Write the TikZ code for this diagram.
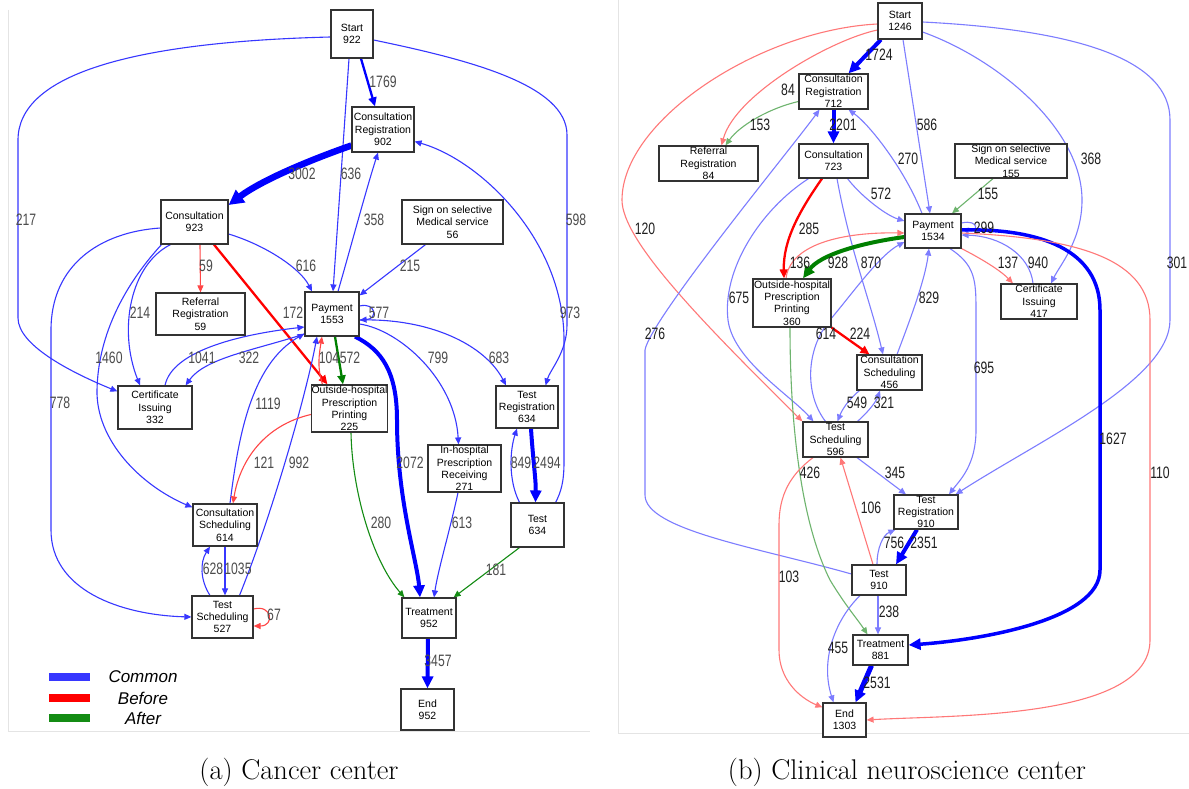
\documentclass[tikz,border=0pt]{standalone}
\usepackage{fontspec}
\usetikzlibrary{arrows.meta}
\newfontfamily\boxfont{Liberation Sans}
\newfontfamily\numfont[FakeStretch=0.74]{Liberation Sans}
\definecolor{lblue}{RGB}{55,55,255}
\definecolor{rblue}{RGB}{125,125,255}
\definecolor{tblue}{RGB}{0,0,255}
\definecolor{lred}{RGB}{255,70,70}
\definecolor{rred}{RGB}{255,120,120}
\definecolor{tred}{RGB}{255,0,0}
\definecolor{lgreen}{RGB}{20,140,20}
\definecolor{rgreen}{RGB}{110,180,110}
\definecolor{tgreen}{RGB}{0,128,0}
\definecolor{framegray}{RGB}{228,228,228}
\pgfdeclarelayer{edges}
\pgfsetlayers{edges,main}
\begin{document}
\begin{tikzpicture}[x=1pt,y=-1pt,
  box/.style={draw=black!80, line width=1.2pt, fill=white, inner sep=0pt, align=center,
    font={\boxfont\fontsize{10.5}{12.4}\selectfont}},
  ethin/.style={line width=1.1pt, -{Triangle[length=7pt,width=6pt]}},
  emed/.style={line width=2.3pt, -{Triangle[length=9pt,width=8pt]}},
  ebig/.style={line width=4pt, -{Triangle[length=12pt,width=11pt]}},
  ehuge/.style={line width=6.5pt, -{Triangle[length=15pt,width=15pt]}},
  lab/.style={font={\numfont\fontsize{16.5}{16.5}\selectfont}, inner sep=0pt},
  laba/.style={lab, text=black!70},
  labb/.style={lab, text=black!88},
  legtext/.style={font={\boxfont\itshape\fontsize{17}{17}\selectfont}, inner sep=0pt},
  caption/.style={font={\fontsize{28.5}{32}\selectfont}, inner sep=0pt}]

\useasboundingbox (0,0) rectangle (1189,789);

% ---------------- (a) Cancer center: activities ----------------
\node[box,minimum width=42pt,minimum height=48pt] (As) at (352,34) {Start\\922};
\node[box,minimum width=62pt,minimum height=45pt] (Acr) at (383,129.5) {Consultation\\Registration\\902};
\node[box,minimum width=67pt,minimum height=44pt] (Ac) at (194.5,222) {Consultation\\923};
\node[box,minimum width=101pt,minimum height=44pt] (Asm) at (452.5,222) {Sign on selective\\Medical service\\56};
\node[box,minimum width=89pt,minimum height=42pt] (Arr) at (200.5,314) {Referral\\Registration\\59};
\node[box,minimum width=54pt,minimum height=44pt] (Ap) at (332,314) {Payment\\1553};
\node[box,minimum width=74pt,minimum height=43pt] (Aci) at (155,407.5) {Certificate\\Issuing\\332};
\node[box,minimum width=75pt,minimum height=47pt] (Aop) at (349.5,408.5) {Outside-hospital\\Prescription\\Printing\\225};
\node[box,minimum width=62pt,minimum height=42pt] (Atr) at (527,407) {Test\\Registration\\634};
\node[box,minimum width=73pt,minimum height=47pt] (Aih) at (464.5,468.5) {In-hospital\\Prescription\\Receiving\\271};
\node[box,minimum width=53pt,minimum height=44pt] (At) at (537.5,525) {Test\\634};
\node[box,minimum width=64pt,minimum height=42pt] (Acs) at (225,525) {Consultation\\Scheduling\\614};
\node[box,minimum width=61pt,minimum height=42pt] (Ats) at (222.5,617) {Test\\Scheduling\\527};
\node[box,minimum width=54pt,minimum height=40pt] (Atm) at (429,618) {Treatment\\952};
\node[box,minimum width=53pt,minimum height=41pt] (Ae) at (427.5,709.5) {End\\952};

% ---------------- (b) Clinical neuroscience center: activities ----------------
\node[box,minimum width=44pt,minimum height=36pt] (Bs) at (900,21) {Start\\1246};
\node[box,minimum width=69pt,minimum height=35pt] (Bcr) at (833.5,91.5) {Consultation\\Registration\\712};
\node[box,minimum width=99pt,minimum height=35pt] (Brr) at (708.5,163.5) {Referral\\Registration\\84};
\node[box,minimum width=69pt,minimum height=34pt] (Bc) at (833.5,161) {Consultation\\723};
\node[box,minimum width=112pt,minimum height=34pt] (Bsm) at (1011,161) {Sign on selective\\Medical service\\155};
\node[box,minimum width=56pt,minimum height=34pt] (Bp) at (933,231) {Payment\\1534};
\node[box,minimum width=78pt,minimum height=48pt] (Bop) at (792,303) {Outside-hospital\\Prescription\\Printing\\360};
\node[box,minimum width=76pt,minimum height=35pt] (Bci) at (1039,301.5) {Certificate\\Issuing\\417};
\node[box,minimum width=65pt,minimum height=35pt] (Bcs) at (889.5,372.5) {Consultation\\Scheduling\\456};
\node[box,minimum width=65pt,minimum height=35pt] (Bts) at (835.5,439.5) {Test\\Scheduling\\596};
\node[box,minimum width=64pt,minimum height=34pt] (Btr) at (926,512) {Test\\Registration\\910};
\node[box,minimum width=54pt,minimum height=30pt] (Bt) at (879,580) {Test\\910};
\node[box,minimum width=55pt,minimum height=30pt] (Btm) at (880.5,650) {Treatment\\881};
\node[box,minimum width=43pt,minimum height=34pt] (Be) at (844.5,720) {End\\1303};

\begin{pgfonlayer}{edges}
\fill[white] (0,0) rectangle (1189,789);
% panel frames
\draw[framegray, line width=1pt] (8,10) -- (8,731) -- (590,731);
\draw[framegray, line width=1pt] (618,0) -- (618,733) -- (1189,733);

% ---- transitions, cancer center ----
\draw[emed,tblue] ([xshift=9pt]As.south) -- ([xshift=-8pt]Acr.north);
\draw[ethin,lblue] ([xshift=-3pt]As.south) -- ([xshift=1pt]Ap.north);
\draw[ethin,lblue] ([yshift=-3pt]As.west) .. controls (130,42) and (18,75) .. (18,140) -- (18,318) .. controls (18,345) and (70,372) .. ([yshift=-6pt]Aci.north west);
\draw[ethin,lblue] ([yshift=-6pt]As.east) .. controls (470,60) and (567,85) .. (567,135) -- (567,325) .. controls (567,352) and (550,370) .. ([xshift=-13pt]Atr.north east);
\draw[ethin,lblue] ([xshift=-9pt]At.north east) .. controls (561,492) and (564,482) .. (564,462) -- (564,340) .. controls (564,240) and (480,160) .. ([yshift=-12pt]Acr.east);
\draw[ehuge,tblue] ([yshift=-16pt]Acr.west) .. controls (310,160) and (262,180) .. ([yshift=17pt]Ac.east);
\draw[ethin,lblue] ([xshift=6pt]Ap.north) .. controls (350,250) and (366,190) .. ([xshift=-5pt]Acr.south);
\draw[ethin,lblue] ([xshift=-27pt]Asm.south) -- ([yshift=-4pt]Ap.north east);
\draw[ethin,lred] ([xshift=5.5pt]Ac.south) -- (Arr.north);
\draw[emed,tred] ([xshift=19.5pt]Ac.south) -- ([xshift=-22pt]Aop.north);
\draw[emed,tgreen] ([xshift=3pt]Ap.south) -- ([xshift=-6.5pt]Aop.north);
\draw[ethin,lred] ([xshift=-27pt]Aop.north) .. controls (317,368) and (319,355) .. ([xshift=-10pt]Ap.south);
\draw[ethin,lblue] ([yshift=-12pt]Ac.east) .. controls (265,245) and (300,268) .. ([xshift=-20pt]Ap.north);
\draw[ethin,lblue] ([xshift=-24pt]Ac.south) .. controls (130,265) and (118,330) .. ([xshift=-15pt]Aci.north);
\draw[ethin,lblue] ([xshift=-33pt]Ac.south) .. controls (120,290) and (98,340) .. (97,390) .. controls (96,440) and (140,485) .. ([yshift=-4pt]Acs.north west);
\draw[ethin,lblue] ([yshift=-6pt]Ac.west) .. controls (100,232) and (51,265) .. (51,330) -- (51,530) .. controls (51,590) and (120,615) .. (Ats.west);
\draw[ethin,lblue] ([yshift=8pt]Ap.east) .. controls (376,302) and (378,319) .. ([yshift=-6pt]Ap.east);
\draw[ethin,lblue] ([yshift=-20pt]Ap.west) .. controls (255,350) and (205,358) .. ([xshift=-7pt]Aci.north east);
\draw[ethin,lblue] ([xshift=10pt]Aci.north) .. controls (172,352) and (235,335) .. ([yshift=-13pt]Ap.west);
\draw[ethin,lblue] ([xshift=5pt]Acs.north) .. controls (238,440) and (250,365) .. ([yshift=3pt]Ap.south west);
\draw[ethin,lblue] ([xshift=17pt]Ats.north) .. controls (270,520) and (305,400) .. ([xshift=-15pt]Ap.south);
\draw[ethin,lred] ([yshift=-6pt]Aop.west) .. controls (265,425) and (240,460) .. ([xshift=8pt]Acs.north);
\draw[ethin,lblue] (Acs.south) -- ([xshift=2.5pt]Ats.north);
\draw[ethin,lblue] ([xshift=-12.5pt]Ats.north) .. controls (200,580) and (200,562) .. ([xshift=-15pt]Acs.south);
\draw[ethin,lred] ([yshift=8pt]Ats.east) .. controls (272,604) and (275,626) .. ([yshift=-9pt]Ats.east);
\draw[ebig,tblue] ([xshift=23pt]Ap.south) .. controls (382,350) and (397,372) .. (397,420) .. controls (397,500) and (417,560) .. ([xshift=-9pt]Atm.north);
\draw[ethin,lblue] ([yshift=-10pt]Ap.east) .. controls (400,330) and (455,380) .. ([xshift=-6pt]Aih.north);
\draw[ethin,lblue] ([yshift=-6pt]Ap.east) .. controls (430,318) and (485,345) .. ([xshift=-21pt]Atr.north);
\draw[ethin,lgreen] ([xshift=1.5pt]Aop.south) .. controls (352,490) and (372,560) .. ([xshift=3pt]Atm.north west);
\draw[ethin,lblue] ([xshift=-6.5pt]Aih.south) .. controls (450,530) and (438,570) .. ([xshift=5pt]Atm.north);
\draw[ebig,tblue] ([xshift=4pt]Atr.south) .. controls (533,460) and (536,480) .. ([xshift=-2pt]At.north);
\draw[ethin,lblue] ([xshift=-18pt]At.north) .. controls (508,480) and (510,450) .. ([xshift=-10pt]Atr.south);
\draw[ethin,lgreen] ([xshift=-18pt]At.south) -- ([xshift=-3pt]Atm.north east);
\draw[ebig,tblue] ([xshift=-1pt]Atm.south) -- (Ae.north);

% ---- transitions, clinical neuroscience center ----
\draw[ebig,tblue] ([xshift=-19pt]Bs.south) -- ([xshift=15pt]Bcr.north);
\draw[ethin,rred] ([yshift=-9pt]Bs.west) .. controls (830,40) and (735,95) .. ([xshift=13pt]Brr.north);
\draw[ethin,rred] ([yshift=-3pt]Bs.west) .. controls (760,30) and (622,120) .. (622,200) .. controls (622,240) and (700,320) .. (Bts.north west);
\draw[ethin,rblue] ([xshift=3pt]Bs.south) -- ([xshift=-3pt]Bp.north);
\draw[ethin,rblue] ([yshift=-11pt]Bs.east) .. controls (1000,60) and (1082,130) .. (1082,200) .. controls (1082,240) and (1060,265) .. ([xshift=12pt]Bci.north);
\draw[ethin,rblue] ([yshift=-1pt]Bs.east) .. controls (1080,30) and (1170,60) .. (1170,120) -- (1170,320) .. controls (1170,380) and (1040,440) .. ([xshift=-3pt]Btr.north east);
\draw[ebig,tblue] (Bcr.south) -- (Bc.north);
\draw[ethin,rgreen] ([yshift=-10pt]Bcr.west) .. controls (770,108) and (740,125) .. ([xshift=17pt]Brr.north);
\draw[ethin,rblue] ([xshift=-11pt]Bp.north) .. controls (905,170) and (870,125) .. ([xshift=15pt]Bcr.south);
\draw[ethin,rblue] ([yshift=6pt]Bt.west) .. controls (760,548) and (645,530) .. (645,495) -- (645,350) .. controls (650,320) and (790,150) .. ([xshift=-14pt]Bcr.south);
\draw[ethin,rblue] ([xshift=14pt]Bc.south) .. controls (860,195) and (885,215) .. ([yshift=10pt]Bp.west);
\draw[emed,tred] ([xshift=-11.5pt]Bc.south) .. controls (800,210) and (783,240) .. ([xshift=-8pt]Bop.north);
\draw[ethin,rblue] ([xshift=-25pt]Bc.south) .. controls (760,210) and (722,270) .. (728,320) .. controls (733,360) and (790,395) .. ([xshift=-22pt]Bts.north);
\draw[ethin,rblue] ([xshift=3.5pt]Bc.south) .. controls (850,250) and (870,300) .. ([xshift=-6.5pt]Bcs.north);
\draw[ethin,rgreen] ([xshift=-18pt]Bsm.south) -- ([xshift=19pt]Bp.north);
\draw[ethin,rblue] ([yshift=8pt]Bp.east) .. controls (979,219) and (979,233) .. ([yshift=2pt]Bp.east);
\draw[ethin,rred] ([xshift=-6pt]Bop.north) .. controls (790,245) and (840,232) .. ([yshift=-2pt]Bp.west);
\draw[ebig,tgreen] ([yshift=-6pt]Bp.west) .. controls (860,243) and (820,255) .. ([xshift=11pt]Bop.north);
\draw[ethin,rred] (Bp.south east) .. controls (980,258) and (1000,270) .. ([xshift=-26pt]Bci.north);
\draw[ethin,rblue] ([xshift=-6pt]Bci.north) .. controls (1030,255) and (1000,236) .. ([yshift=-4pt]Bp.east);
\draw[ebig,tblue,line width=3.5pt] ([yshift=1pt]Bp.east) .. controls (1040,228) and (1100,250) .. (1100,310) -- (1100,570) .. controls (1100,620) and (980,640) .. ([yshift=5pt]Btm.east);
\draw[ethin,rred] ([yshift=-2pt]Bp.east) .. controls (1080,238) and (1150,260) .. (1150,320) -- (1150,640) .. controls (1150,720) and (950,715) .. (Be.east);
\draw[ethin,rblue] ([xshift=17pt]Bp.south) .. controls (975,265) and (976,280) .. (976,310) -- (976,430) .. controls (976,465) and (960,480) .. ([xshift=23pt]Btr.north);
\draw[emed,tred] (Bop.south east) -- ([xshift=-20pt]Bcs.north);
\draw[ethin,rblue] ([xshift=-10pt]Bts.north) .. controls (805,395) and (805,350) .. (830,320) .. controls (855,290) and (880,255) .. ([yshift=-11pt]Bp.west);
\draw[ethin,rgreen] ([xshift=-2pt]Bop.south) .. controls (790,420) and (800,520) .. (830,580) .. controls (845,605) and (858,620) .. ([xshift=-13pt]Btm.north);
\draw[ethin,rblue] ([xshift=7.5pt]Bcs.north) .. controls (910,320) and (925,280) .. ([xshift=-4pt]Bp.south);
\draw[ethin,rblue] ([xshift=3pt]Bcs.south west) .. controls (848,400) and (842,410) .. ([xshift=2pt]Bts.north);
\draw[ethin,rblue] ([xshift=22pt]Bts.north) .. controls (868,412) and (876,402) .. ([xshift=-9.5pt]Bcs.south);
\draw[ethin,rblue] ([xshift=21.5pt]Bts.south) -- ([xshift=-20pt]Btr.north);
\draw[ethin,rred] ([xshift=-22.5pt]Bts.south) .. controls (790,475) and (779,495) .. (779,525) -- (779,650) .. controls (779,680) and (800,698) .. ([yshift=-5pt]Be.north west);
\draw[ethin,rred] ([xshift=-6pt]Bt.north) -- ([xshift=5pt]Bts.south);
\draw[ethin,rblue] ([xshift=-2pt]Bt.north) .. controls (877,548) and (883,535) .. ([xshift=2pt]Btr.south west);
\draw[ebig,tblue] ([xshift=-9pt]Btr.south) -- ([xshift=17pt]Bt.north);
\draw[ethin,rblue] ([xshift=-1pt]Bt.south) -- ([xshift=-2.5pt]Btm.north);
\draw[ethin,rblue] ([xshift=-19pt]Bt.south) .. controls (835,620) and (820,660) .. ([xshift=-11pt]Be.north);
\draw[ebig,tblue,line width=5pt] ([xshift=-9pt]Btm.south) -- ([xshift=11pt]Be.north);
\end{pgfonlayer}

% ---- transition counts, cancer center ----
\node[laba] (la1769) at (383,82) {1769};
\node[laba] (la636) at (351,174) {636};
\node[laba] (la217) at (26,220) {217};
\node[laba] (la598) at (576,220) {598};
\node[laba] (la3002) at (302,174) {3002};
\node[laba] (la358) at (374,220) {358};
\node[laba] (la215) at (410,266) {215};
\node[laba] (la59) at (206,266) {59};
\node[laba] (la616) at (306,266) {616};
\node[laba] (la214) at (140,313) {214};
\node[laba] (la172) at (293,313) {172};
\node[laba] (la577) at (379,313) {577};
\node[laba] (la973) at (570,313) {973};
\node[laba] (la1460) at (109,358) {1460};
\node[laba] (la1041) at (202,358) {1041};
\node[laba] (la322) at (249,358) {322};
\node[laba] (la104) at (329,358) {104};
\node[laba] (la572) at (350,358) {572};
\node[laba] (la799) at (438,358) {799};
\node[laba] (la683) at (499,358) {683};
\node[laba] (la778) at (60,403) {778};
\node[laba] (la1119) at (268,404) {1119};
\node[laba] (la121) at (264,463) {121};
\node[laba] (la992) at (299,463) {992};
\node[laba] (la2072) at (410,463) {2072};
\node[laba] (la849) at (521,463) {849};
\node[laba] (la2494) at (547,463) {2494};
\node[laba] (la280) at (381,523) {280};
\node[laba] (la613) at (462,523) {613};
\node[laba] (la628) at (213,569) {628};
\node[laba] (la1035) at (238,569) {1035};
\node[laba] (la181) at (496,570) {181};
\node[laba] (la67) at (274,615) {67};
\node[laba] (la3457) at (438,661) {3457};

% ---- transition counts, clinical neuroscience center ----
\node[labb] (lb1724) at (879,55) {1724};
\node[labb] (lb84) at (788,90) {84};
\node[labb] (lb153) at (760,125) {153};
\node[labb] (lb2201) at (843,125) {2201};
\node[labb] (lb586) at (927,125) {586};
\node[labb] (lb120) at (645,229) {120};
\node[labb] (lb270) at (908,159) {270};
\node[labb] (lb368) at (1091,159) {368};
\node[labb] (lb572) at (881,194) {572};
\node[labb] (lb155) at (988,194) {155};
\node[labb] (lb285) at (809,229) {285};
\node[labb] (lb299) at (984,228) {299};
\node[labb] (lb136) at (800,263) {136};
\node[labb] (lb928) at (838,263) {928};
\node[labb] (lb870) at (871,263) {870};
\node[labb] (lb137) at (1008,263) {137};
\node[labb] (lb940) at (1038,263) {940};
\node[labb] (lb301) at (1177,263) {301};
\node[labb] (lb675) at (739,298) {675};
\node[labb] (lb829) at (929,298) {829};
\node[labb] (lb276) at (655,334) {276};
\node[labb] (lb614) at (826,334) {614};
\node[labb] (lb224) at (860,334) {224};
\node[labb] (lb695) at (984,368) {695};
\node[labb] (lb549) at (857,403) {549};
\node[labb] (lb321) at (884,403) {321};
\node[labb] (lb1627) at (1113,439) {1627};
\node[labb] (lb426) at (810,473) {426};
\node[labb] (lb345) at (895,473) {345};
\node[labb] (lb110) at (1160,473) {110};
\node[labb] (lb106) at (871,508) {106};
\node[labb] (lb103) at (789,577) {103};
\node[labb] (lb756) at (894,543) {756};
\node[labb] (lb2351) at (924,543) {2351};
\node[labb] (lb238) at (889,612) {238};
\node[labb] (lb455) at (838,648) {455};
\node[labb] (lb2531) at (877,683) {2531};

% ---- legend ----
\fill[lblue] (49,673) rectangle (90,681);
\fill[tred] (49,694) rectangle (90,702);
\fill[lgreen] (49,714) rectangle (90,722);
\node[legtext] (lgcommon) at (143,677) {Common};
\node[legtext] (lgbefore) at (143,698) {Before};
\node[legtext] (lgafter) at (143,718) {After};

% ---- captions ----
\node[caption] (capa) at (299,772) {(a) Cancer center};
\node[caption] (capb) at (907,772) {(b) Clinical neuroscience center};
\end{tikzpicture}
\end{document}
